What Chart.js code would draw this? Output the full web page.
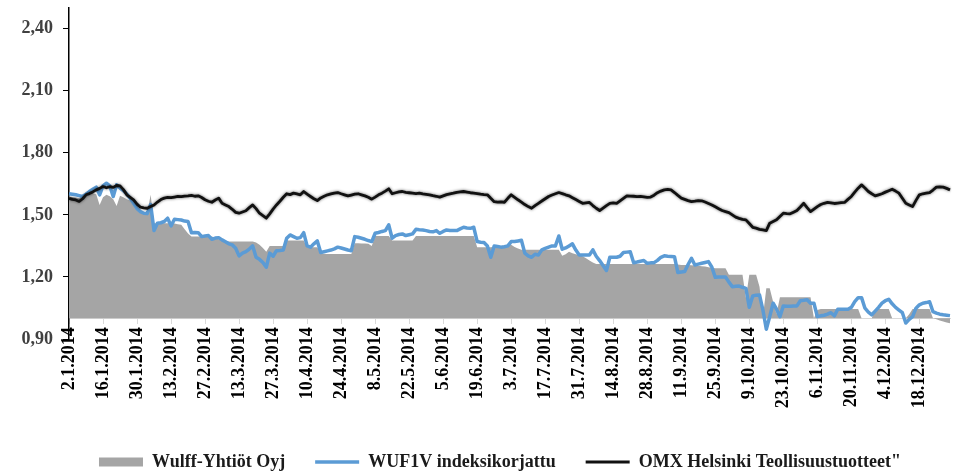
<!DOCTYPE html>
<html>
<head>
<meta charset="utf-8">
<script src="https://cdn.jsdelivr.net/npm/chart.js@4.4.1/dist/chart.umd.min.js"></script>
<style>
  html, body { margin: 0; padding: 0; background: #fff; }
  #wrap { width: 964px; height: 475px; }
</style>
</head>
<body>
<div id="wrap"><canvas id="wulffChart"></canvas></div>
<script>
// categories: every weekday from 2.1.2014 to 31.12.2014
const dayLabels = [];
(function () {
    const d = new Date(2014, 0, 2);
    while (d.getFullYear() === 2014) {
        const wd = d.getDay();
        if (wd !== 0 && wd !== 6) dayLabels.push(d.getDate() + "." + (d.getMonth() + 1) + "." + d.getFullYear());
        d.setDate(d.getDate() + 1);
    }
})();

const yTicks = [0.9, 1.2, 1.5, 1.8, 2.1, 2.4];

// Wulff-Yhtiöt Oyj (area)
const wulff = [
    1.589, 1.586, 1.584, 1.581, 1.59, 1.6, 1.605, 1.605, 1.6, 1.548,
    1.585, 1.597, 1.59, 1.575, 1.543, 1.592, 1.585, 1.575, 1.57, 1.564,
    1.54, 1.515, 1.508, 1.508, 1.597, 1.46, 1.46, 1.46, 1.46, 1.46,
    1.46, 1.458, 1.455, 1.452, 1.43, 1.41, 1.395, 1.395, 1.395, 1.395,
    1.395, 1.395, 1.395, 1.39, 1.382, 1.378, 1.375, 1.371, 1.371, 1.371,
    1.371, 1.371, 1.371, 1.371, 1.371, 1.366, 1.355, 1.34, 1.322, 1.35,
    1.35, 1.35, 1.35, 1.35, 1.376, 1.376, 1.376, 1.376, 1.376, 1.376,
    1.344, 1.344, 1.344, 1.344, 1.311, 1.311, 1.311, 1.311, 1.311, 1.311,
    1.311, 1.311, 1.311, 1.311, 1.363, 1.363, 1.362, 1.362, 1.36, 1.35,
    1.398, 1.398, 1.398, 1.398, 1.398, 1.376, 1.376, 1.376, 1.376, 1.376,
    1.376, 1.376, 1.398, 1.398, 1.398, 1.398, 1.398, 1.398, 1.398, 1.398,
    1.398, 1.398, 1.398, 1.398, 1.398, 1.398, 1.398, 1.398, 1.398, 1.398,
    1.344, 1.344, 1.344, 1.344, 1.344, 1.346, 1.348, 1.35, 1.352, 1.355,
    1.355, 1.345, 1.338, 1.331, 1.331, 1.331, 1.331, 1.331, 1.331, 1.331,
    1.331, 1.331, 1.331, 1.331, 1.331, 1.302, 1.31, 1.322, 1.315, 1.31,
    1.306, 1.3, 1.29, 1.28, 1.27, 1.263, 1.263, 1.263, 1.263, 1.263,
    1.263, 1.263, 1.263, 1.263, 1.263, 1.263, 1.263, 1.263, 1.263, 1.263,
    1.263, 1.263, 1.263, 1.263, 1.263, 1.263, 1.263, 1.263, 1.263, 1.26,
    1.258, 1.258, 1.258, 1.256, 1.255, 1.254, 1.252, 1.25, 1.247, 1.245,
    1.242, 1.242, 1.242, 1.242, 1.21, 1.21, 1.21, 1.21, 1.21, 1.1,
    1.21, 1.21, 1.21, 1.153, 1.008, 1.145, 1.145, 1.08, 1.021, 1.102,
    1.102, 1.102, 1.102, 1.102, 1.102, 1.102, 1.102, 1.102, 1.102, 1.0,
    1.04, 1.045, 1.045, 1.045, 1.045, 1.045, 1.045, 1.045, 1.045, 1.045,
    1.045, 1.045, 1.045, 1.0, 1.0, 1.0, 1.0, 1.045, 1.045, 1.045,
    1.045, 1.045, 1.0, 1.0, 1.0, 1.0, 1.0, 1.02, 1.045, 1.045,
    1.045, 1.045, 1.045, 1.045, 1.0, 0.995, 0.99, 0.985, 0.98, 0.976
];

// WUF1V indeksikorjattu
const wuf1v = [
    1.602, 1.6, 1.597, 1.593, 1.589, 1.6, 1.613, 1.624, 1.634, 1.597,
    1.64, 1.653, 1.64, 1.589, 1.645, 1.63, 1.618, 1.6, 1.58, 1.556,
    1.53, 1.516, 1.508, 1.506, 1.55, 1.424, 1.46, 1.462, 1.468, 1.484,
    1.447, 1.479, 1.477, 1.475, 1.47, 1.468, 1.414, 1.415, 1.414, 1.395,
    1.398, 1.4, 1.382, 1.388, 1.39, 1.379, 1.37, 1.36, 1.355, 1.339,
    1.302, 1.315, 1.322, 1.335, 1.35, 1.295, 1.285, 1.27, 1.247, 1.315,
    1.3, 1.327, 1.328, 1.33, 1.387, 1.403, 1.395, 1.387, 1.39, 1.414,
    1.35, 1.344, 1.36, 1.374, 1.318, 1.322, 1.326, 1.33, 1.336, 1.344,
    1.34, 1.335, 1.33, 1.327, 1.395, 1.392, 1.387, 1.382, 1.376, 1.371,
    1.411, 1.415, 1.42, 1.424, 1.452, 1.387, 1.4, 1.405, 1.408, 1.4,
    1.404, 1.408, 1.43, 1.428, 1.427, 1.424, 1.42, 1.418, 1.424, 1.411,
    1.42, 1.427, 1.425, 1.424, 1.424, 1.432, 1.44, 1.437, 1.435, 1.44,
    1.371, 1.368, 1.366, 1.35, 1.295, 1.35, 1.347, 1.344, 1.346, 1.35,
    1.371, 1.371, 1.374, 1.377, 1.315, 1.302, 1.295, 1.31, 1.306, 1.331,
    1.338, 1.344, 1.35, 1.35, 1.398, 1.334, 1.34, 1.35, 1.36, 1.33,
    1.306, 1.306, 1.306, 1.306, 1.331, 1.3, 1.279, 1.255, 1.231, 1.295,
    1.295, 1.295, 1.3, 1.318, 1.32, 1.322, 1.269, 1.272, 1.276, 1.279,
    1.266, 1.268, 1.269, 1.28, 1.295, 1.302, 1.3, 1.299, 1.298, 1.221,
    1.224, 1.226, 1.26, 1.29, 1.258, 1.262, 1.266, 1.27, 1.274, 1.247,
    1.198, 1.2, 1.2, 1.2, 1.175, 1.153, 1.155, 1.156, 1.15, 1.145,
    1.053, 1.108, 1.112, 1.113, 1.04, 0.947, 1.008, 1.073, 1.044, 1.008,
    1.06, 1.058, 1.058, 1.06, 1.06, 1.085, 1.087, 1.09, 1.073, 1.073,
    1.008, 1.012, 1.015, 1.02, 1.027, 1.012, 1.044, 1.044, 1.044, 1.044,
    1.053, 1.081, 1.1, 1.1, 1.049, 1.03, 1.017, 1.035, 1.053, 1.073,
    1.085, 1.092, 1.07, 1.053, 1.04, 1.027, 0.977, 0.995, 1.008, 1.049,
    1.065, 1.073, 1.076, 1.08, 1.032, 1.025, 1.02, 1.017, 1.015, 1.013
];

// OMX Helsinki Teollisuustuotteet
const omxIndustrials = [
    1.58, 1.575, 1.572, 1.565, 1.578, 1.597, 1.603, 1.611, 1.621, 1.628,
    1.637, 1.631, 1.636, 1.633, 1.642, 1.64, 1.622, 1.597, 1.585, 1.573,
    1.552, 1.537, 1.534, 1.532, 1.54, 1.548, 1.562, 1.574, 1.581, 1.584,
    1.583, 1.586, 1.589, 1.588, 1.591, 1.592, 1.594, 1.59, 1.592, 1.584,
    1.573, 1.566, 1.561, 1.572, 1.581, 1.556, 1.548, 1.54, 1.527, 1.512,
    1.508, 1.514, 1.52, 1.535, 1.548, 1.53, 1.508, 1.496, 1.484, 1.505,
    1.528, 1.548, 1.566, 1.585, 1.602, 1.598, 1.605, 1.601, 1.597, 1.613,
    1.6, 1.589, 1.578, 1.569, 1.582, 1.59, 1.597, 1.601, 1.605, 1.608,
    1.602, 1.597, 1.592, 1.596, 1.6, 1.602, 1.597, 1.592, 1.585, 1.576,
    1.586, 1.597, 1.605, 1.615, 1.626, 1.602, 1.607, 1.611, 1.613, 1.609,
    1.607, 1.605, 1.603, 1.605, 1.601, 1.599, 1.597, 1.593, 1.59, 1.586,
    1.592, 1.598, 1.602, 1.605, 1.609, 1.611, 1.613, 1.61, 1.607, 1.605,
    1.603, 1.6, 1.598, 1.597, 1.58, 1.564, 1.562, 1.563, 1.561, 1.58,
    1.597, 1.585, 1.573, 1.562, 1.55, 1.54, 1.532, 1.545, 1.556, 1.567,
    1.578, 1.589, 1.596, 1.602, 1.608, 1.603, 1.597, 1.592, 1.583, 1.574,
    1.565, 1.556, 1.558, 1.56, 1.545, 1.532, 1.521, 1.533, 1.545, 1.556,
    1.558, 1.556, 1.568, 1.58, 1.592, 1.591, 1.59, 1.588, 1.589, 1.587,
    1.585, 1.586, 1.595, 1.607, 1.615, 1.621, 1.623, 1.621, 1.608, 1.594,
    1.581, 1.575, 1.569, 1.564, 1.566, 1.569, 1.568, 1.562, 1.555, 1.548,
    1.539, 1.53, 1.521, 1.516, 1.511, 1.5, 1.489, 1.483, 1.478, 1.476,
    1.458, 1.44, 1.436, 1.43, 1.427, 1.424, 1.46, 1.468, 1.476, 1.492,
    1.508, 1.506, 1.505, 1.513, 1.521, 1.538, 1.556, 1.535, 1.516, 1.528,
    1.54, 1.55, 1.556, 1.56, 1.558, 1.555, 1.557, 1.559, 1.56, 1.575,
    1.589, 1.61, 1.629, 1.645, 1.63, 1.613, 1.602, 1.592, 1.597, 1.602,
    1.61, 1.617, 1.624, 1.615, 1.605, 1.58, 1.556, 1.548, 1.54, 1.57,
    1.597, 1.602, 1.605, 1.608, 1.62, 1.634, 1.635, 1.634, 1.628, 1.621
];

const serif = "'Liberation Serif', 'Times New Roman', serif";

// soft edge on the black index line
const glowPlugin = {
    id: "glow",
    beforeDatasetDraw(chart, args) {
        if (args.index !== 2) return;
        chart.ctx.save();
        chart.ctx.shadowColor = "rgba(0,0,0,0.6)";
        chart.ctx.shadowBlur = 3;
    },
    afterDatasetDraw(chart, args) {
        if (args.index === 2) chart.ctx.restore();
    }
};

// empty box between plot and legend, room for the date labels
const bottomSpacer = {
    id: "bottomSpacer",
    beforeInit(chart) {
        const box = {
            position: "bottom",
            weight: 500,
            fullSize: false,
            options: {},
            top: 0, bottom: 0, left: 0, right: 0, width: 0, height: 0,
            isHorizontal() { return true; },
            update(maxWidth) { this.width = maxWidth; this.height = 84; },
            getPadding() { return { top: 0, left: 0, right: 0, bottom: 0 }; },
            draw() {}
        };
        box._layers = () => [{ z: 0, draw() {} }];
        chart.boxes.push(box);
    }
};

const ctx = document.getElementById("wulffChart").getContext("2d");
new Chart(ctx, {
    type: "line",
    data: {
        labels: dayLabels,
        datasets: [{
            label: "Wulff-Yhtiöt Oyj",
            data: wulff,
            fill: { value: 1.0 },
            backgroundColor: "#a5a5a5",
            borderColor: "#a5a5a5",
            borderWidth: 0,
            pointRadius: 0,
            pointStyle: "rect",
            order: 3
        }, {
            label: "WUF1V indeksikorjattu",
            data: wuf1v,
            fill: false,
            borderColor: "#5b9bd5",
            backgroundColor: "#5b9bd5",
            borderWidth: 3.5,
            borderJoinStyle: "round",
            pointRadius: 0,
            pointStyle: "line",
            order: 2
        }, {
            label: "OMX Helsinki Teollisuustuotteet\"",
            data: omxIndustrials,
            fill: false,
            borderColor: "#111",
            backgroundColor: "#111",
            borderWidth: 2.8,
            borderJoinStyle: "round",
            pointRadius: 0,
            pointStyle: "line",
            order: 1
        }]
    },
    options: {
        responsive: true,
        maintainAspectRatio: false,
        animation: false,
        layout: { padding: { left: 50, right: 14, top: 8, bottom: -6 } },
        plugins: {
            tooltip: { enabled: false },
            legend: {
                position: "bottom",
                labels: {
                    usePointStyle: true,
                    pointStyleWidth: 44,
                    boxHeight: 9,
                    padding: 30,
                    color: "#1a1a1a",
                    font: { family: serif, size: 18, weight: "bold" },
                    sort: (a, b) => a.datasetIndex - b.datasetIndex
                }
            }
        },
        scales: {
            x: {
                type: "category",
                position: { y: 1.0 },
                offset: false,
                grid: { drawOnChartArea: false, tickLength: 5, color: "#d9d9d9" },
                border: { color: "#d9d9d9", width: 1 },
                ticks: {
                    autoSkip: false,
                    maxRotation: 90,
                    minRotation: 90,
                    padding: 4,
                    color: "#000",
                    font: { family: serif, size: 18, weight: "bold" }
                },
                afterBuildTicks: (scale) => {
                    scale.ticks = scale.ticks.filter((t) => t.value % 10 === 0);
                }
            },
            y: {
                min: 0.9,
                max: 2.5,
                afterBuildTicks: (scale) => {
                    scale.ticks = yTicks.map((v) => ({ value: v }));
                },
                afterFit: (scale) => { scale.width = 19; },
                grid: { drawOnChartArea: false, tickLength: 6, color: "#000" },
                border: { color: "#000", width: 1.5 },
                ticks: {
                    mirror: true,
                    crossAlign: "far",
                    padding: -47.5,
                    color: "#404040",
                    font: { family: serif, size: 18, weight: "bold" },
                    callback: (v) => Number(v).toFixed(2).replace(".", ",")
                }
            }
        }
    },
    plugins: [glowPlugin, bottomSpacer]
});
</script>
</body>
</html>
